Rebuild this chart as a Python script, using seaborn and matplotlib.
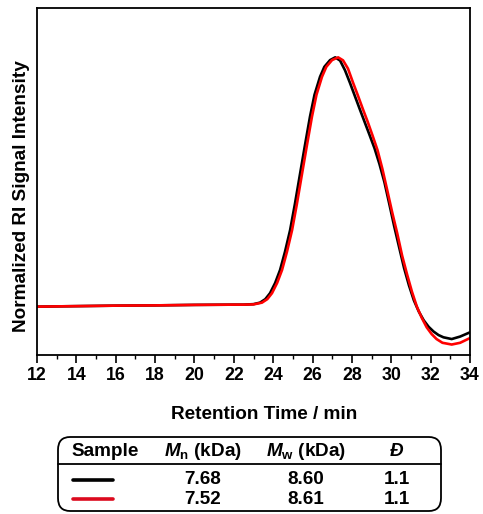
import numpy as np
import pandas as pd
import matplotlib
matplotlib.use("Agg")
import matplotlib.pyplot as plt
from matplotlib.patches import FancyBboxPatch
from matplotlib.lines import Line2D
import seaborn as sns

# ---- data ----
time_black = [12, 14, 16, 18, 20, 22, 22.5, 23.0, 23.33, 23.6, 23.84, 24.1, 24.35, 24.6,
              24.86, 25.1, 25.37, 25.62, 25.87, 26.1, 26.38, 26.6, 26.89, 27.15, 27.4,
              27.65, 27.9, 28.15, 28.4, 28.65, 28.9, 29.15, 29.4, 29.65, 29.9, 30.15,
              30.4, 30.65, 30.9, 31.15, 31.4, 31.65, 31.9, 32.15, 32.4, 32.65, 33.07,
              33.5, 34]
int_black = [0.0, 0.002, 0.004, 0.005, 0.007, 0.008, 0.008, 0.010, 0.016, 0.030, 0.054,
             0.095, 0.147, 0.220, 0.307, 0.410, 0.535, 0.650, 0.762, 0.850, 0.922, 0.962,
             0.989, 1.0, 0.987, 0.948, 0.898, 0.845, 0.792, 0.740, 0.688, 0.635, 0.572,
             0.500, 0.412, 0.322, 0.238, 0.155, 0.085, 0.025, -0.020, -0.055, -0.081,
             -0.100, -0.114, -0.123, -0.130, -0.120, -0.103]
time_red = [12, 14, 16, 18, 20, 22, 22.5, 23.0, 23.43, 23.7, 23.94, 24.2, 24.45, 24.7,
            24.96, 25.2, 25.47, 25.72, 25.97, 26.2, 26.48, 26.7, 26.99, 27.3, 27.55,
            27.8, 28.05, 28.3, 28.55, 28.8, 29.05, 29.3, 29.55, 29.8, 30.05, 30.3,
            30.55, 30.8, 31.05, 31.3, 31.55, 31.8, 32.05, 32.3, 32.6, 33.07, 33.5, 34]
int_red = [0.0, 0.002, 0.004, 0.005, 0.007, 0.008, 0.008, 0.009, 0.016, 0.030, 0.054,
           0.095, 0.147, 0.220, 0.307, 0.410, 0.535, 0.650, 0.762, 0.850, 0.922, 0.962,
           0.989, 1.0, 0.988, 0.955, 0.900, 0.848, 0.794, 0.742, 0.686, 0.628, 0.552,
           0.465, 0.377, 0.295, 0.205, 0.130, 0.060, 0.0, -0.045, -0.083, -0.110,
           -0.130, -0.145, -0.152, -0.145, -0.126]

xticks = [12, 14, 16, 18, 20, 22, 24, 26, 28, 30, 32, 34]
table_header = ["Sample", r"$\bfit{M}_{\mathrm{n}}$ (kDa)", r"$\bfit{M}_{\mathrm{w}}$ (kDa)", "Đ"]
mn_vals = ["7.68", "7.52"]
mw_vals = ["8.60", "8.61"]
disp_vals = ["1.1", "1.1"]
line_colors = ["#000000", "#ff0000"]
legend_colors = ["#000000", "#dc0a1e"]

sns.set_style("ticks")
plt.rcParams["font.family"] = ["Liberation Sans", "DejaVu Sans"]
plt.rcParams["font.weight"] = "bold"
plt.rcParams["text.color"] = "black"
plt.rcParams["axes.labelcolor"] = "black"
plt.rcParams["xtick.color"] = "black"
plt.rcParams["ytick.color"] = "black"
plt.rcParams["mathtext.fontset"] = "custom"
plt.rcParams["mathtext.rm"] = "Liberation Sans:bold"
plt.rcParams["mathtext.bf"] = "Liberation Sans:bold"
plt.rcParams["mathtext.it"] = "Liberation Sans:italic:bold"
plt.rcParams["mathtext.bfit"] = "Liberation Sans:italic:bold"

fig = plt.figure(figsize=(4.83, 5.14), dpi=100)
ax = fig.add_axes([37/483, 1-355/514, (470-37)/483, (355-8)/514])

df_b = pd.DataFrame({"t": time_black, "s": int_black})
df_r = pd.DataFrame({"t": time_red, "s": int_red})
sns.lineplot(data=df_b, x="t", y="s", ax=ax, color=line_colors[0], lw=1.9)
sns.lineplot(data=df_r, x="t", y="s", ax=ax, color=line_colors[1], lw=1.9)

ax.set_xlim(12, 34)
ax.set_ylim(-0.194, 1.198)
ax.set_xticks(xticks)
ax.set_xticks(np.arange(13, 34, 2), minor=True)
ax.set_yticks([])
ax.tick_params(axis="x", which="major", direction="out", length=6, width=1.2,
               labelsize=12.8, pad=3, colors="black")
ax.tick_params(axis="x", which="minor", direction="out", length=3, width=1.0)
for lab in ax.get_xticklabels():
    lab.set_fontweight("bold")
for sp in ax.spines.values():
    sp.set_linewidth(1.3)
    sp.set_color("black")
ax.set_xlabel("Retention Time / min", fontsize=13.7, fontweight="bold")
ax.set_ylabel("Normalized RI Signal Intensity", fontsize=13.7, fontweight="bold")
ax.xaxis.set_label_coords(0.5245, -0.146)
ax.yaxis.set_label_coords(-0.016, 0.457)

# ---- table ----
W, H = 483, 514
def fx(px):
    return px / W
def fy(py):
    return 1 - py / H

box = FancyBboxPatch((fx(58), fy(511)), fx(441) - fx(58), fy(437) - fy(511),
                     boxstyle="round,pad=0,rounding_size=0.025",
                     transform=fig.transFigure, fill=False, lw=1.3, ec="black")
fig.patches.append(box)
fig.add_artist(Line2D([fx(58), fx(441)], [fy(464), fy(464)], transform=fig.transFigure,
                      color="black", lw=1.3))

col_x = [105, 203, 306, 397]
tsize = 13.6
for i, h in enumerate(table_header):
    kw = dict(ha="center", va="center", fontsize=tsize, fontweight="bold",
              transform=fig.transFigure)
    if h == "Đ":
        kw["fontstyle"] = "italic"
    fig.text(fx(col_x[i]), fy(451), h, **kw)

row_y = [480, 499]
for r in range(2):
    fig.add_artist(Line2D([fx(73), fx(113)], [fy(row_y[r]), fy(row_y[r])],
                          transform=fig.transFigure, color=legend_colors[r], lw=2.6))
    for c, val in zip(col_x[1:], [mn_vals[r], mw_vals[r], disp_vals[r]]):
        fig.text(fx(c), fy(row_y[r]), val, ha="center", va="center", fontsize=tsize,
                 fontweight="bold", transform=fig.transFigure)

fig.savefig("out.png", dpi=100)
